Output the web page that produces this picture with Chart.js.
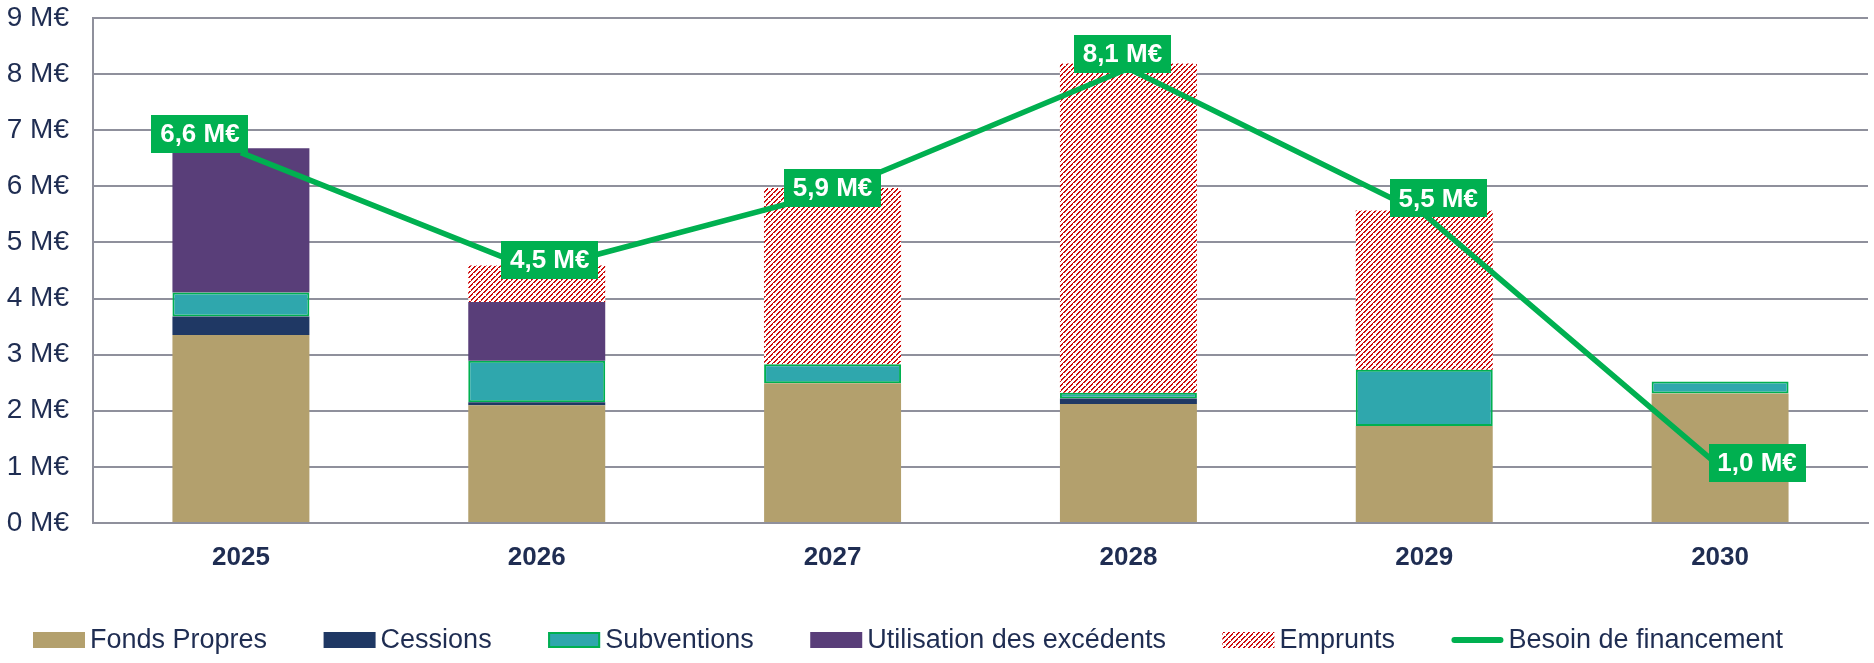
<!DOCTYPE html>
<html>
<head>
<meta charset="utf-8">
<script src="https://cdn.jsdelivr.net/npm/chart.js@4.4.1/dist/chart.umd.min.js"></script>
<style>
  html, body { margin: 0; padding: 0; background: #ffffff; }
  #wrap { width: 1874px; height: 663px; }
</style>
</head>
<body>
<div id="wrap"><canvas id="c" width="1874" height="663"></canvas></div>
<script>
// ---- Data ----
const years = ['2025', '2026', '2027', '2028', '2029', '2030'];
const fondsPropres = [3.35, 2.10, 2.49, 2.12, 1.73, 2.31];
const cessions     = [0.33, 0.05, 0.00, 0.10, 0.00, 0.00];
const subventions  = [0.43, 0.74, 0.34, 0.10, 1.00, 0.21];
const utilisation  = [2.57, 1.05, 0.00, 0.00, 0.00, 0.00];
const emprunts     = [0.00, 0.65, 3.14, 5.87, 2.84, 0.00];
const besoin       = [6.6, 4.5, 5.9, 8.1, 5.5, 1.0];
const yTickLabels  = ['0 M€', '1 M€', '2 M€', '3 M€', '4 M€', '5 M€', '6 M€', '7 M€', '8 M€', '9 M€'];

// ---- Styles ----
const FONT = '"Liberation Sans", Arial, sans-serif';
const TEXT = '#1F2D52';
const GREEN = '#00B050';
const GRID = '#8F909C';
// label box offsets relative to each line point (style, not data)
const labelOffsets = [[-41, -19], [13, -11], [0, -4], [-6, -15], [14, -16], [37, -4]];

function makeHatch() {
  const n = 10;
  const c = document.createElement('canvas');
  c.width = n; c.height = n;
  const g = c.getContext('2d');
  g.fillStyle = '#ffffff';
  g.fillRect(0, 0, n, n);
  for (let x = 0; x < n; x++) {
    for (let y = 0; y < n; y++) {
      const k = (x + y) % 5;
      const gap = ((x - y + 20) % 10) === 0;
      if ((k === 0 || k === 1) && !gap) {
        g.fillStyle = k === 0 ? '#C80000' : '#D42020';
        g.fillRect(x, y, 1, 1);
      }
    }
  }
  return g.createPattern(c, 'repeat');
}
const hatch = makeHatch();

const labelPlugin = {
  id: 'besoinLabels',
  afterDatasetsDraw(chart) {
    const idx = chart.data.datasets.findIndex(d => d.type === 'line');
    const meta = chart.getDatasetMeta(idx);
    const ctx = chart.ctx;
    ctx.save();
    ctx.font = 'bold 26px ' + FONT;
    ctx.textAlign = 'center';
    ctx.textBaseline = 'middle';
    meta.data.forEach((pt, i) => {
      const cx = pt.x + labelOffsets[i][0];
      const cy = pt.y + labelOffsets[i][1];
      const w = 97, h = 38;
      ctx.fillStyle = GREEN;
      ctx.fillRect(Math.round(cx - w / 2), Math.round(cy - h / 2), w, h);
      ctx.fillStyle = '#ffffff';
      const txt = besoin[i].toFixed(1).replace('.', ',') + ' M€';
      ctx.fillText(txt, cx, cy + 1);
    });
    ctx.restore();
  }
};

const legendPlugin = {
  id: 'customLegend',
  afterDraw(chart) {
    const ctx = chart.ctx;
    ctx.save();
    ctx.font = '27px ' + FONT;
    ctx.textBaseline = 'middle';
    ctx.textAlign = 'left';
    const boxW = 52, gapText = 5, gapItem = 56.5;
    let x = 33;
    const y = 640;
    chart.data.datasets.forEach(ds => {
      if (ds.type === 'line') {
        ctx.strokeStyle = ds.borderColor;
        ctx.lineWidth = 6;
        ctx.lineCap = 'round';
        ctx.beginPath();
        ctx.moveTo(x + 3, y);
        ctx.lineTo(x + boxW - 3, y);
        ctx.stroke();
      } else {
        ctx.fillStyle = ds.backgroundColor;
        ctx.fillRect(x, y - 8, boxW, 16);
        if (ds.borderWidth) {
          ctx.strokeStyle = ds.borderColor;
          ctx.lineWidth = 2;
          ctx.strokeRect(x + 1, y - 7, boxW - 2, 14);
        }
      }
      ctx.fillStyle = TEXT;
      ctx.fillText(ds.label, x + boxW + gapText, y + 1);
      x += boxW + gapText + ctx.measureText(ds.label).width + gapItem;
    });
    ctx.restore();
  }
};

const barCommon = { type: 'bar', stack: 'bars', order: 1, borderWidth: 0,
  barPercentage: 0.463, categoryPercentage: 1.0 };

new Chart(document.getElementById('c'), {
  data: {
    labels: years,
    datasets: [
      Object.assign({}, barCommon, { label: 'Fonds Propres', data: fondsPropres, backgroundColor: '#B3A06D' }),
      Object.assign({}, barCommon, { label: 'Cessions', data: cessions, backgroundColor: '#1F3864' }),
      Object.assign({}, barCommon, { label: 'Subventions', data: subventions, backgroundColor: '#2FA7AD',
        borderColor: GREEN, borderWidth: 2, borderSkipped: false }),
      Object.assign({}, barCommon, { label: 'Utilisation des excédents', data: utilisation, backgroundColor: '#593E79' }),
      Object.assign({}, barCommon, { label: 'Emprunts', data: emprunts, backgroundColor: hatch }),
      { type: 'line', label: 'Besoin de financement', data: besoin, stack: 'line', order: 0,
        borderColor: GREEN, backgroundColor: GREEN, borderWidth: 5.5, pointRadius: 0,
        fill: false, tension: 0 }
    ]
  },
  options: {
    responsive: false,
    devicePixelRatio: 1,
    animation: false,
    layout: { padding: { top: 18, right: 6, left: 0, bottom: 80 } },
    plugins: {
      legend: { display: false },
      tooltip: { enabled: false }
    },
    scales: {
      x: {
        stacked: true,
        grid: { display: false, drawTicks: false },
        border: { display: true, color: GRID, width: 2 },
        ticks: { color: TEXT, font: { family: FONT, size: 26, weight: 'bold' }, padding: 19 },
        afterFit(scale) { scale.height = 60; scale.paddingLeft = 0; scale.paddingRight = 0; }
      },
      y: {
        stacked: true,
        min: 0, max: 9,
        grid: { color: GRID, lineWidth: 2, drawTicks: false },
        border: { display: true, color: GRID, width: 2 },
        ticks: {
          stepSize: 1,
          color: TEXT,
          font: { family: FONT, size: 28 },
          padding: 24,
          callback: (v) => yTickLabels[v]
        },
        afterFit(scale) { scale.width = 93; scale.paddingTop = 0; scale.paddingBottom = 0; }
      }
    }
  },
  plugins: [labelPlugin, legendPlugin]
});
</script>
</body>
</html>
